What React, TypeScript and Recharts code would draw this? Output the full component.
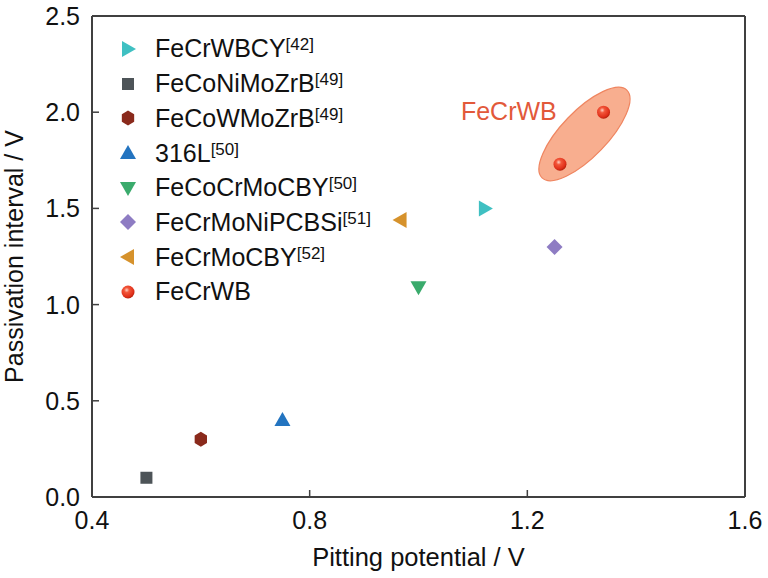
import React from 'react';
import { ScatterChart, Scatter, XAxis, YAxis, Legend, ReferenceLine, ReferenceDot } from 'recharts';

const FONT = '"Liberation Sans", Arial, sans-serif';
const AXIS = '#404040';

const xTicks = [0.4, 0.8, 1.2, 1.6];
const yTicks = [0, 0.5, 1.0, 1.5, 2.0, 2.5];

const feCrWBCY = [{ x: 1.122, y: 1.5 }];
const feCoNiMoZrB = [{ x: 0.5, y: 0.1 }];
const feCoWMoZrB = [{ x: 0.6, y: 0.3 }];
const l316 = [{ x: 0.75, y: 0.4 }];
const feCoCrMoCBY = [{ x: 1.0, y: 1.09 }];
const feCrMoNiPCBSi = [{ x: 1.25, y: 1.3 }];
const feCrMoCBY = [{ x: 0.967, y: 1.44 }];
const feCrWB = [{ x: 1.26, y: 1.73 }, { x: 1.34, y: 2.0 }];
const ellipseCenter = [{ x: 1.305, y: 1.887 }];
const annotation = { x: 1.166, y: 2.006, text: 'FeCrWB' };

const series = [
  { name: 'FeCrWBCY', ref: '42', kind: 'right', color: '#3fc0c2', data: feCrWBCY },
  { name: 'FeCoNiMoZrB', ref: '49', kind: 'square', color: '#4d5458', data: feCoNiMoZrB },
  { name: 'FeCoWMoZrB', ref: '49', kind: 'hexagon', color: '#8a2a1c', data: feCoWMoZrB },
  { name: '316L', ref: '50', kind: 'up', color: '#2374c0', data: l316 },
  { name: 'FeCoCrMoCBY', ref: '50', kind: 'down', color: '#3aab6c', data: feCoCrMoCBY },
  { name: 'FeCrMoNiPCBSi', ref: '51', kind: 'diamond', color: '#8e7cc3', data: feCrMoNiPCBSi },
  { name: 'FeCrMoCBY', ref: '52', kind: 'left', color: '#d6922c', data: feCrMoCBY },
  { name: 'FeCrWB', ref: '', kind: 'sphere', color: '#e8381c', data: feCrWB },
];

function Marker({ kind, cx, cy, color }: { kind: string; cx: number; cy: number; color: string }) {
  const pts = (arr: number[][]) => arr.map((p) => `${cx + p[0]},${cy + p[1]}`).join(' ');
  switch (kind) {
    case 'right':
      return <polygon points={pts([[-6, -8], [8, 0], [-6, 8]])} fill={color} />;
    case 'left':
      return <polygon points={pts([[6, -8], [-8, 0], [6, 8]])} fill={color} />;
    case 'up':
      return <polygon points={pts([[-8, 6], [0, -8], [8, 6]])} fill={color} />;
    case 'down':
      return <polygon points={pts([[-8, -6], [8, -6], [0, 8]])} fill={color} />;
    case 'square':
      return <rect x={cx - 6} y={cy - 6} width={12} height={12} fill={color} />;
    case 'diamond':
      return <polygon points={pts([[0, -8], [8, 0], [0, 8], [-8, 0]])} fill={color} />;
    case 'hexagon': {
      const r = 7.5;
      const arr: number[][] = [];
      for (let k = 0; k < 6; k++) {
        const a = ((90 + 60 * k) * Math.PI) / 180;
        arr.push([r * Math.cos(a) * 0.95, r * Math.sin(a)]);
      }
      return <polygon points={pts(arr)} fill={color} />;
    }
    case 'sphere':
      return (
        <g>
          <defs>
            <radialGradient id="sphereGrad" cx="0.4" cy="0.35" r="0.65">
              <stop offset="0" stopColor="#ffd2c4" />
              <stop offset="0.3" stopColor="#f2563a" />
              <stop offset="0.8" stopColor="#e0301a" />
              <stop offset="1" stopColor="#b8200c" />
            </radialGradient>
          </defs>
          <circle cx={cx} cy={cy} r={6.5} fill="url(#sphereGrad)" />
        </g>
      );
    default:
      return <circle cx={cx} cy={cy} r={6} fill={color} />;
  }
}

const YTick = (props: any) => {
  const { x, y, payload } = props;
  const ax = x + 12;
  return (
    <g>
      <line x1={ax} x2={ax + 7} y1={y} y2={y} stroke={AXIS} strokeWidth={1.5} />
      <text x={x} y={y + 9} textAnchor="end" fontFamily={FONT} fontSize={25} fill="#111">
        {Number(payload.value).toFixed(1)}
      </text>
    </g>
  );
};

const XTick = (props: any) => {
  const { x, y, payload } = props;
  return (
    <g>
      <line x1={x} x2={x} y1={y} y2={y - 7} stroke={AXIS} strokeWidth={1.5} />
      <text x={x} y={y + 32} textAnchor="middle" fontFamily={FONT} fontSize={25} fill="#111">
        {Number(payload.value).toFixed(1)}
      </text>
    </g>
  );
};

const renderLegend = () => (
  <div style={{ fontFamily: FONT, fontSize: 25, color: '#111' }}>
    {series.map((s) => (
      <div key={s.name} style={{ height: 34.7, display: 'flex', alignItems: 'center', whiteSpace: 'nowrap' }}>
        <svg width={30} height={20} style={{ flex: 'none' }}>
          <Marker kind={s.kind} cx={15} cy={10} color={s.color} />
        </svg>
        <span style={{ marginLeft: 12 }}>
          {s.name}
          {s.ref ? (
            <span style={{ fontSize: 17, position: 'relative', top: -7 }}>[{s.ref}]</span>
          ) : null}
        </span>
      </div>
    ))}
  </div>
);

const EllipseShape = (props: any) => {
  const { cx, cy } = props;
  return (
    <ellipse
      cx={cx}
      cy={cy}
      rx={61}
      ry={23}
      transform={`rotate(-46 ${cx} ${cy})`}
      fill="#f7a583"
      fillOpacity={0.9}
      stroke="#ef8560"
      strokeWidth={1.2}
    />
  );
};

export default function App() {
  return (
    <div style={{ position: 'absolute', left: 0, top: 0, background: '#fff' }}>
      <ScatterChart width={768} height={578} margin={{ top: 16, right: 23, left: 0, bottom: 0 }}>
        <XAxis
          type="number"
          dataKey="x"
          domain={[0.4, 1.6]}
          ticks={xTicks}
          allowDataOverflow
          height={81}
          stroke={AXIS}
          axisLine={{ stroke: AXIS, strokeWidth: 2 }}
          tickLine={false}
          tickSize={0}
          tickMargin={0}
          tick={<XTick />}
          label={() => (
            <text x={92 + 653 / 2} y={566} textAnchor="middle" fontFamily={FONT} fontSize={25.5} fill="#111">
              Pitting potential / V
            </text>
          )}
        />
        <YAxis
          type="number"
          dataKey="y"
          domain={[0, 2.5]}
          ticks={yTicks}
          allowDataOverflow
          width={92}
          axisLine={{ stroke: AXIS, strokeWidth: 2 }}
          tickLine={false}
          tickSize={0}
          tickMargin={12}
          tick={<YTick />}
          label={() => (
            <text
              x={23}
              y={256.5}
              transform="rotate(-90 23 256.5)"
              textAnchor="middle"
              fontFamily={FONT}
              fontSize={25}
              fill="#111"
            >
              Passivation interval / V
            </text>
          )}
        />
        <ReferenceLine y={2.5} stroke={AXIS} strokeWidth={2} />
        <ReferenceLine x={1.6} stroke={AXIS} strokeWidth={2} />
        <Scatter data={ellipseCenter} shape={<EllipseShape />} isAnimationActive={false} legendType="none" />
        {series.map((s) => (
          <Scatter
            key={s.name}
            name={s.name}
            data={s.data}
            fill={s.color}
            isAnimationActive={false}
            shape={(p: any) => <Marker kind={s.kind} cx={p.cx} cy={p.cy} color={s.color} />}
          />
        ))}
        <ReferenceDot
          x={annotation.x}
          y={annotation.y}
          r={0}
          stroke="none"
          fill="none"
          label={{ value: annotation.text, position: 'center', fill: '#e2593a', fontSize: 25, fontFamily: FONT }}
        />
        <Legend
          layout="vertical"
          align="center"
          verticalAlign="middle"
          content={renderLegend}
          wrapperStyle={{ left: 113, top: 31.6, width: 330, height: 'auto' }}
        />
      </ScatterChart>
    </div>
  );
}
